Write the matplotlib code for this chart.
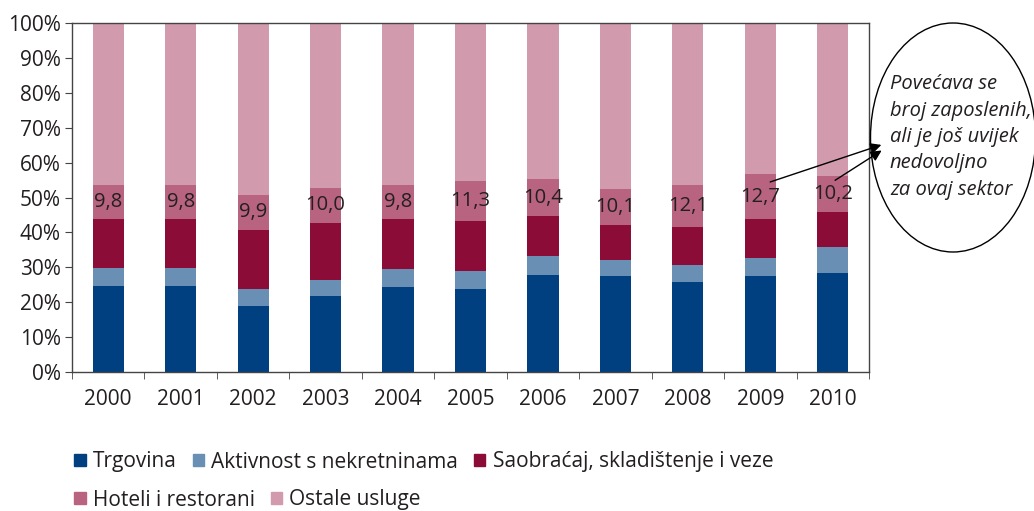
import matplotlib.pyplot as plt
from matplotlib.patches import Ellipse, Patch
import numpy as np

plt.rcParams['font.family'] = ['Open Sans', 'DejaVu Sans']

years = ['2000', '2001', '2002', '2003', '2004', '2005', '2006', '2007', '2008', '2009', '2010']
trgovina = [24.5, 24.5, 19.0, 21.9, 24.4, 23.9, 27.9, 27.6, 25.9, 27.6, 28.5]
aktivnost = [5.2, 5.2, 4.9, 4.6, 5.2, 5.1, 5.4, 4.6, 4.9, 5.1, 7.4]
saobracaj = [14.2, 14.2, 16.9, 16.3, 14.3, 14.3, 11.5, 10.0, 10.8, 11.2, 10.0]
hoteli = [9.8, 9.8, 9.9, 10.0, 9.8, 11.3, 10.4, 10.1, 12.1, 12.7, 10.2]
ostale = [100 - a - b - c - d for a, b, c, d in zip(trgovina, aktivnost, saobracaj, hoteli)]

names = ['Trgovina', 'Aktivnost s nekretninama', 'Saobraćaj, skladištenje i veze',
         'Hoteli i restorani', 'Ostale usluge']
colors = ['#004080', '#6a8fb5', '#8c0c38', '#b8637f', '#d19bad']
note = 'Povećava se\nbroj zaposlenih,\nali je još uvijek\nnedovoljno\nza ovaj sektor'

txt = '#231f20'
fig = plt.figure(figsize=(10.34, 5.11), dpi=100)
ax = fig.add_axes([72 / 1034, 1 - 372 / 511, 797 / 1034, 349 / 511])

x = np.arange(len(years))
bottom = np.zeros(len(years))
for vals, c in zip([trgovina, aktivnost, saobracaj, hoteli, ostale], colors):
    ax.bar(x, vals, 0.43, bottom=bottom, color=c, linewidth=0)
    bottom += np.array(vals)

# labels for hotels
hb = np.array(trgovina) + np.array(aktivnost) + np.array(saobracaj)
for i, v in enumerate(hoteli):
    ax.text(x[i], hb[i] + v / 2, f'{v:.1f}'.replace('.', ','), ha='center', va='center',
            fontsize=14.5, color=txt)

ax.set_xlim(-0.5, len(years) - 0.5)
ax.set_ylim(0, 100)
ax.set_yticks(np.arange(0, 101, 10))
ax.set_yticklabels([f'{v}%' for v in range(0, 101, 10)])
ax.set_xticks(x)
ax.set_xticklabels(years)
ax.set_xticks(np.arange(-0.5, len(years)), minor=True)
ax.tick_params(axis='x', which='major', length=0, pad=12)
ax.tick_params(axis='x', which='minor', length=5, color='#444444')
ax.tick_params(axis='y', length=5, color='#444444', pad=3)
ax.tick_params(labelsize=15, labelcolor=txt)
for s in ax.spines.values():
    s.set_color('#444444')
    s.set_linewidth(1.0)

# overlay in pixel coords for the note
ov = fig.add_axes([0, 0, 1, 1], facecolor='none')
ov.set_xlim(0, 1034)
ov.set_ylim(511, 0)
ov.axis('off')
ov.add_patch(Ellipse((953, 137.5), 165, 229, fill=False, edgecolor='black', linewidth=1.0))
ov.text(890, 137, note, style='italic', fontsize=14.5, color=txt, ha='left', va='center',
        linespacing=1.42)
ov.annotate('', xy=(884, 144), xycoords=ov.transData, xytext=(9.1, 54.2), textcoords=ax.transData,
            arrowprops=dict(arrowstyle='-|>', color='black', lw=1.0, mutation_scale=16))
ov.annotate('', xy=(884, 149), xycoords=ov.transData, xytext=(10.0, 54.5), textcoords=ax.transData,
            arrowprops=dict(arrowstyle='-|>', color='black', lw=1.0, mutation_scale=16))

h = [Patch(color=c) for c in colors]
leg_kw = dict(frameon=False, fontsize=15, handlelength=0.55, handleheight=0.55,
              handletextpad=0.35, columnspacing=0.75, labelcolor=txt, borderaxespad=0)
fig.legend(h[:3], names[:3], ncol=3, loc='center left', bbox_to_anchor=(66 / 1034, 1 - 462 / 511), **leg_kw)
fig.legend(h[3:], names[3:], ncol=2, loc='center left', bbox_to_anchor=(66 / 1034, 1 - 500 / 511), **leg_kw)

fig.savefig('out.png', dpi=100)
